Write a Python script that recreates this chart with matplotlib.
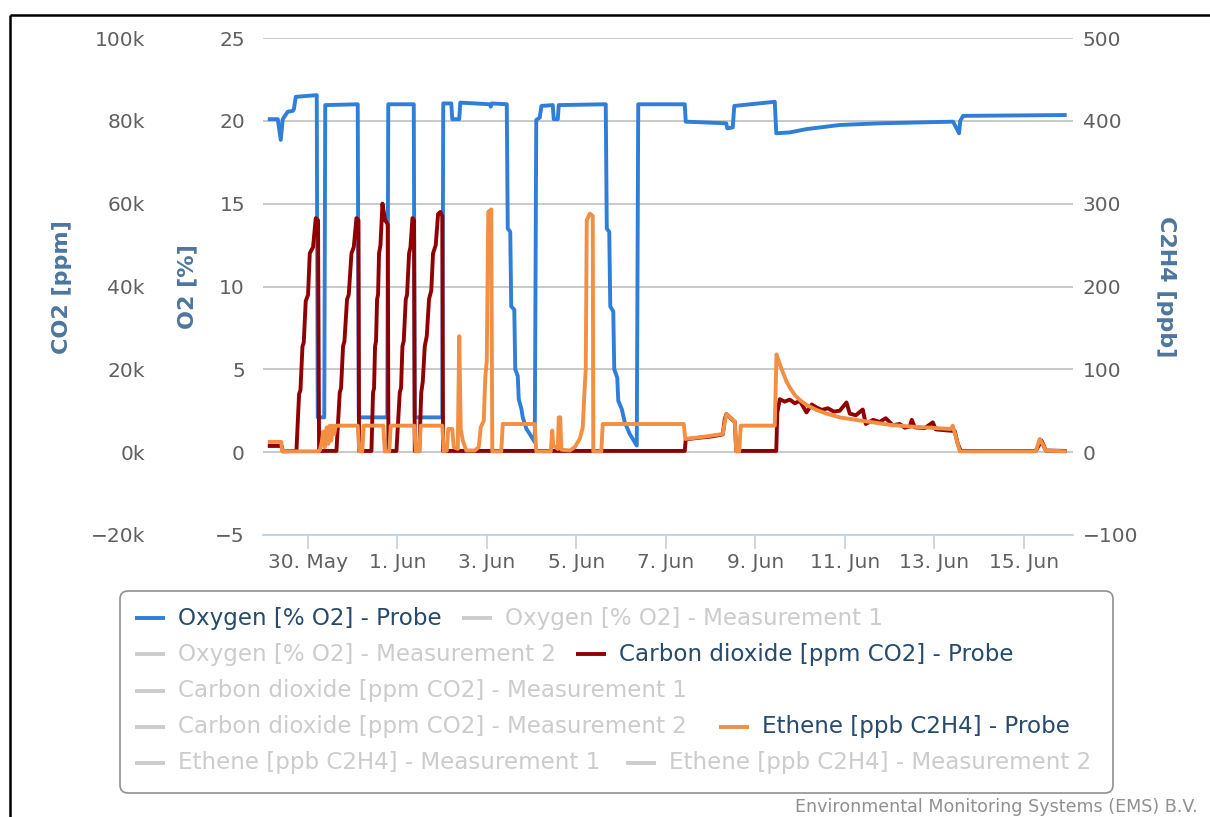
import pandas as pd
import matplotlib.pyplot as plt
from matplotlib.patches import FancyBboxPatch

plt.rcParams['font.family'] = ['DejaVu Sans']

start = pd.Timestamp('2015-05-29')

# Oxygen probe [% O2], time in days since 29 May 00:00
o2_days = [0.151, 0.330, 0.397, 0.441, 0.553, 0.665, 0.690, 0.732, 1.201, 1.223, 1.369, 1.391,
           2.117, 2.140, 2.777, 2.799, 3.369, 3.391, 4.006, 4.028, 4.207, 4.229, 4.385, 4.408,
           5.067, 5.089, 5.112, 5.447, 5.469, 5.525, 5.547, 5.615, 5.637, 5.693, 5.715, 5.775,
           5.804, 5.887, 5.961, 6.073, 6.106, 6.184, 6.222, 6.475, 6.497, 6.587, 6.609, 7.659,
           7.682, 7.737, 7.760, 7.827, 7.849, 7.916, 7.939, 8.017, 8.084, 8.195, 8.352, 8.385,
           9.424, 9.447, 10.352, 10.374, 10.497, 10.531, 11.436, 11.469, 11.771, 12.144, 12.888,
           13.782, 15.420, 15.554, 15.581, 15.644, 17.916]
o2_vals = [20.1, 20.1, 18.85, 20.1, 20.55, 20.6, 20.7, 21.45, 21.55, 2.1, 2.1, 20.95,
           21.0, 2.1, 2.1, 21.0, 21.0, 2.1, 2.1, 21.05, 21.05, 20.1, 20.1, 21.1,
           21.0, 20.85, 21.05, 21.0, 13.5, 13.3, 8.8, 8.6, 5.0, 4.6, 3.2, 2.6,
           2.1, 1.4, 1.1, 0.6, 20.05, 20.2, 20.9, 20.95, 20.1, 20.1, 20.95, 21.0,
           13.5, 13.3, 8.8, 8.5, 5.0, 4.5, 3.1, 2.6, 1.8, 1.1, 0.4, 21.0,
           21.0, 19.95, 19.85, 19.55, 19.6, 20.9, 21.15, 19.25, 19.3, 19.5, 19.75,
           19.85, 19.95, 19.25, 20.0, 20.3, 20.35]

# Carbon dioxide probe [ppm CO2]
co2_days = [0.151, 0.419, 0.441, 0.747, 0.806, 0.837, 0.882, 0.911, 0.955, 1.007, 1.045, 1.118,
            1.179, 1.230, 1.253, 1.641, 1.715, 1.744, 1.789, 1.820, 1.878, 1.916, 1.977, 2.028,
            2.088, 2.133, 2.146, 2.423, 2.459, 2.482, 2.504, 2.526, 2.549, 2.571, 2.593, 2.625,
            2.669, 2.698, 2.727, 2.759, 2.788, 2.803, 2.982, 3.056, 3.085, 3.116, 3.145, 3.190,
            3.219, 3.264, 3.295, 3.340, 3.375, 3.391, 3.492, 3.536, 3.570, 3.615, 3.659, 3.711,
            3.760, 3.800, 3.860, 3.912, 3.961, 4.006, 4.024, 9.424, 9.447, 9.760, 10.028, 10.274,
            10.318, 10.356, 10.542, 10.575, 11.469, 11.492, 11.548, 11.659, 11.771, 11.883, 11.995,
            12.144, 12.263, 12.368, 12.486, 12.620, 12.754, 12.888, 13.038, 13.112, 13.246, 13.402,
            13.469, 13.632, 13.782, 13.916, 14.073, 14.229, 14.341, 14.453, 14.497, 14.564, 14.788,
            14.967, 15.034, 15.235, 15.458, 15.525, 15.592, 17.268, 17.396, 17.492, 17.916]
co2_vals = [1500, 1500, 200, 300, 14000, 15000, 25500, 26500, 36500, 38000, 48000, 49500,
            56500, 56000, 300, 300, 14400, 15500, 25600, 26800, 36900, 38000, 48000, 49500,
            56500, 56000, 300, 300, 14400, 15500, 25600, 26800, 36900, 38000, 48000, 50000,
            60000, 58000, 56000, 55500, 55000, 300, 300, 14400, 15500, 25600, 26800, 36900,
            38000, 48000, 49500, 56500, 56000, 300, 300, 14400, 17000, 25600, 28000, 37000,
            39000, 48000, 50000, 57500, 58000, 57000, 300, 300, 3100, 3500, 3800, 4300,
            8000, 9200, 7300, 300, 300, 9500, 12800, 12200, 12700, 11800, 12400,
            9600, 11500, 10800, 10200, 10600, 9800, 10000, 12000, 9300, 8900, 10300,
            6800, 7800, 7300, 8200, 6500, 6800, 5900, 6200, 7800, 6000, 5800,
            7200, 5500, 5300, 5100, 2000, 300, 300, 2800, 400, 300]

# Ethene probe [ppb C2H4]
c2h4_days = [0.151, 0.408, 0.430, 1.246, 1.268, 1.313, 1.346, 1.380, 1.425, 1.458, 1.492, 1.525,
             1.559, 1.592, 1.626, 2.117, 2.151, 2.218, 2.251, 2.687, 2.721, 2.821, 2.855, 3.380,
             3.413, 3.492, 3.525, 4.006, 4.039, 4.106, 4.140, 4.229, 4.263, 4.352, 4.385, 4.419,
             4.464, 4.542, 4.732, 4.821, 4.866, 4.933, 4.967, 5.000, 5.034, 5.101, 5.123, 5.324,
             5.358, 6.073, 6.106, 6.430, 6.464, 6.486, 6.587, 6.609, 6.643, 6.665, 6.855, 6.966,
             7.078, 7.145, 7.190, 7.212, 7.235, 7.302, 7.369, 7.380, 7.559, 7.592, 9.402, 9.436,
             9.760, 10.028, 10.274, 10.318, 10.356, 10.542, 10.575, 10.642, 10.676, 11.436, 11.474,
             11.536, 11.621, 11.693, 11.771, 11.883, 11.995, 12.144, 12.368, 12.570, 12.888, 13.246,
             13.632, 14.005, 14.453, 15.369, 15.414, 15.570, 17.268, 17.358, 17.492, 17.916]
c2h4_vals = [12.4, 12.4, 1, 1, 2, 12, 25, 6, 30, 10, 32, 14,
             32, 22, 32, 32, 1, 1, 32, 32, 1, 1, 32, 32,
             1, 1, 32, 32, 1, 2, 28, 28, 6, 4, 140, 28,
             14, 2, 2, 6, 30, 38, 90, 110, 290, 293, 1, 1,
             34, 34, 1, 1, 26, 8, 4, 42, 42, 3, 2, 6,
             16, 30, 80, 100, 280, 288, 285, 1, 1, 34, 34, 16,
             18, 20, 22, 36, 46, 37, 1, 1, 32, 32, 118,
             108, 96, 86, 78, 69, 63, 57, 51, 47, 42, 39,
             36, 33, 31, 28, 32, 1, 1, 16, 2, 1]

tick_dates = ['2015-05-30', '2015-06-01', '2015-06-03', '2015-06-05', '2015-06-07',
              '2015-06-09', '2015-06-11', '2015-06-13', '2015-06-15']
tick_labels = ['30. May', '1. Jun', '3. Jun', '5. Jun', '7. Jun', '9. Jun', '11. Jun', '13. Jun', '15. Jun']
o2_ticks = [-5, 0, 5, 10, 15, 20, 25]
co2_ticks = [-20000, 0, 20000, 40000, 60000, 80000, 100000]
co2_labels = ['\u221220k', '0k', '20k', '40k', '60k', '80k', '100k']
c2h4_ticks = [-100, 0, 100, 200, 300, 400, 500]
c2h4_labels = ['\u2212100', '0', '100', '200', '300', '400', '500']

legend_items = [
    ('Oxygen [% O2] - Probe', '#2f7ed8', True),
    ('Oxygen [% O2] - Measurement 1', None, False),
    ('Oxygen [% O2] - Measurement 2', None, False),
    ('Carbon dioxide [ppm CO2] - Probe', '#910000', True),
    ('Carbon dioxide [ppm CO2] - Measurement 1', None, False),
    ('Carbon dioxide [ppm CO2] - Measurement 2', None, False),
    ('Ethene [ppb C2H4] - Probe', '#f28f43', True),
    ('Ethene [ppb C2H4] - Measurement 1', None, False),
    ('Ethene [ppb C2H4] - Measurement 2', None, False),
]

W, H = 1210, 817
fig = plt.figure(figsize=(W / 100, H / 100), dpi=100)

def to_time(days):
    return start + pd.to_timedelta(days, unit='D')

tick_col = '#606060'
title_col = '#4d759e'
fs = 14.5

ax = fig.add_axes([263 / W, 1 - 535 / H, (1073 - 263) / W, (535 - 38) / H])
ax_co2 = ax.twinx()
ax_eth = ax.twinx()

ax.plot(to_time(o2_days), o2_vals, color='#2f7ed8', lw=2.8, solid_joinstyle='round')
ax_co2.plot(to_time(co2_days), co2_vals, color='#910000', lw=2.8, solid_joinstyle='round')
ax_eth.plot(to_time(c2h4_days), c2h4_vals, color='#f28f43', lw=2.8, solid_joinstyle='round')

ax.set_xlim(start, start + pd.Timedelta(days=18.1))
ax.set_ylim(-5, 25)
ax_co2.set_ylim(-20000, 100000)
ax_eth.set_ylim(-100, 500)

ax.set_yticks(o2_ticks)
ax.yaxis.grid(True, color='#c0c0c0', lw=1.2)
ax.set_axisbelow(True)
ax.tick_params(axis='y', length=0, pad=13, labelsize=fs, labelcolor=tick_col)

ax_co2.yaxis.tick_left()
ax_co2.set_yticks(co2_ticks)
ax_co2.set_yticklabels(co2_labels)
ax_co2.tick_params(axis='y', length=0, pad=85, labelsize=fs, labelcolor=tick_col)

ax_eth.set_yticks(c2h4_ticks)
ax_eth.set_yticklabels(c2h4_labels)
ax_eth.tick_params(axis='y', length=0, pad=7, labelsize=fs, labelcolor=tick_col)

ax.set_xticks(pd.to_datetime(tick_dates))
ax.set_xticklabels(tick_labels)
ax.tick_params(axis='x', direction='out', length=10, width=1.2, color='#c0d0e0',
               labelsize=fs, labelcolor=tick_col, pad=3)

for a in (ax, ax_co2, ax_eth):
    for s in a.spines.values():
        s.set_visible(False)
ax.spines['bottom'].set_visible(True)
ax.spines['bottom'].set_color('#c0d0e0')
ax.spines['bottom'].set_linewidth(1.2)

# overlay in pixel coordinates for titles, legend and frame
ov = fig.add_axes([0, 0, 1, 1], zorder=-1)
ov.set_xlim(0, W)
ov.set_ylim(H, 0)
ov.axis('off')

tfs = 16
ov.text(62, 287, 'CO2 [ppm]', rotation=90, ha='center', va='center', color=title_col,
        fontsize=tfs, fontweight='bold')
ov.text(187, 287, 'O2 [%]', rotation=90, ha='center', va='center', color=title_col,
        fontsize=tfs, fontweight='bold')
ov.text(1166, 287, 'C2H4 [ppb]', rotation=270, ha='center', va='center', color=title_col,
        fontsize=tfs, fontweight='bold')

ov.plot([10, W], [15, 15], color='black', lw=1.8, solid_capstyle='butt')
ov.plot([10, 10], [15, H], color='black', lw=1.8, solid_capstyle='butt')

leg = fig.add_axes([0, 0, 1, 1])
leg.set_xlim(0, W)
leg.set_ylim(H, 0)
leg.axis('off')
leg.add_patch(FancyBboxPatch((120, 591), 993, 202, boxstyle='round,pad=0,rounding_size=8',
                             facecolor='white', edgecolor='#909090', lw=1.2))

lfs = 16.6
positions = [(178, 618), (505, 618), (178, 654), (619, 654), (178, 691),
             (178, 727), (762, 727), (178, 763), (669, 763)]
for (label, col, active), (tx, ty) in zip(legend_items, positions):
    lc = col if active else '#cccccc'
    leg.plot([tx - 43, tx - 13], [ty, ty], color=lc, lw=2.8, solid_capstyle='butt')
    leg.text(tx, ty, label, ha='left', va='center', fontsize=lfs,
             color='#274b6d' if active else '#cccccc')

leg.text(1198, 807, 'Environmental Monitoring Systems (EMS) B.V.', ha='right', va='center',
         fontsize=12.6, color='#909090')

fig.savefig('out.png', dpi=100)
